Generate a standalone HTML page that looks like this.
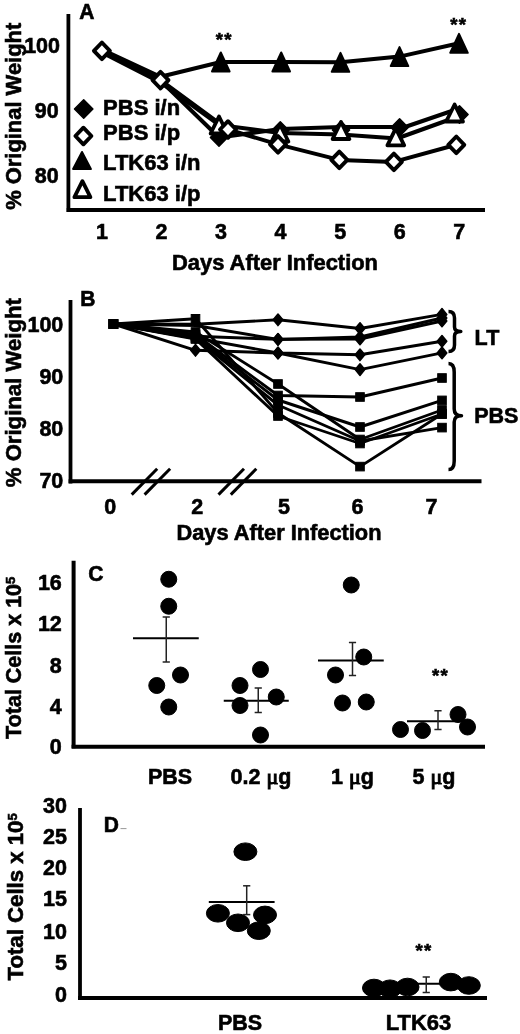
<!DOCTYPE html>
<html><head><meta charset="utf-8"><title>Figure</title>
<style>html,body{margin:0;padding:0;background:#fff;}svg{display:block;}</style>
</head><body>
<svg width="520" height="1034" viewBox="0 0 520 1034" font-family='"Liberation Sans", sans-serif' stroke="#000" fill="#000">
<rect x="0" y="0" width="520" height="1034" fill="#fff" stroke="none"/>
<g stroke-linecap="butt">
<g id="A">
<line x1="68.4" y1="14" x2="68.4" y2="212" stroke-width="3.8"/>
<line x1="66.7" y1="210" x2="485" y2="210" stroke-width="4"/>
<text stroke="#000" stroke-width="0.6" transform="translate(79.3,18.9) scale(1,1.08)" x="0" y="0" font-size="21" text-anchor="start" font-weight="bold">A</text>
<text stroke="#000" stroke-width="0.6" transform="translate(60,52.8) scale(1,1.06)" x="0" y="0" font-size="21.5" text-anchor="end" font-weight="bold">100</text>
<text stroke="#000" stroke-width="0.6" transform="translate(58.6,117.9) scale(1,1.06)" x="0" y="0" font-size="21.5" text-anchor="end" font-weight="bold">90</text>
<text stroke="#000" stroke-width="0.6" transform="translate(58.6,182.9) scale(1,1.06)" x="0" y="0" font-size="21.5" text-anchor="end" font-weight="bold">80</text>
<text stroke="#000" stroke-width="0.6" transform="translate(20.6,116.3) rotate(-90)" x="0" y="0" font-size="21.5" text-anchor="middle" font-weight="bold" textLength="187" lengthAdjust="spacingAndGlyphs" >% Original Weight</text>
<text stroke="#000" stroke-width="0.6" transform="translate(101.9,238.5) scale(1,1.06)" x="0" y="0" font-size="21.5" text-anchor="middle" font-weight="bold">1</text>
<text stroke="#000" stroke-width="0.6" transform="translate(161.45,238.5) scale(1,1.06)" x="0" y="0" font-size="21.5" text-anchor="middle" font-weight="bold">2</text>
<text stroke="#000" stroke-width="0.6" transform="translate(221,238.5) scale(1,1.06)" x="0" y="0" font-size="21.5" text-anchor="middle" font-weight="bold">3</text>
<text stroke="#000" stroke-width="0.6" transform="translate(280.55,238.5) scale(1,1.06)" x="0" y="0" font-size="21.5" text-anchor="middle" font-weight="bold">4</text>
<text stroke="#000" stroke-width="0.6" transform="translate(340.1,238.5) scale(1,1.06)" x="0" y="0" font-size="21.5" text-anchor="middle" font-weight="bold">5</text>
<text stroke="#000" stroke-width="0.6" transform="translate(399.65,238.5) scale(1,1.06)" x="0" y="0" font-size="21.5" text-anchor="middle" font-weight="bold">6</text>
<text stroke="#000" stroke-width="0.6" transform="translate(459.2,238.5) scale(1,1.06)" x="0" y="0" font-size="21.5" text-anchor="middle" font-weight="bold">7</text>
<text stroke="#000" stroke-width="0.6" x="275" y="270" font-size="21.5" font-weight="bold" text-anchor="middle" textLength="206" lengthAdjust="spacingAndGlyphs">Days After Infection</text>
<polyline points="101.9,49.5 160.5,76.8 220.8,62 281.2,62 340.5,62.3 399.5,56.6 459,43.3" fill="none" stroke-width="4" stroke-linejoin="round"/>
<polyline points="101.9,51.5 160.5,80.5 219,137.5 280.3,129 341,127 405,127 459,108.5" fill="none" stroke-width="4" stroke-linejoin="round"/>
<polyline points="101.9,52.5 160.5,82.5 219,125 280,133 341,134.5 397,138.5 459.5,116" fill="none" stroke-width="4" stroke-linejoin="round"/>
<polyline points="101.9,50.8 160.5,80.2 228,129.5 278,144.4 339.3,159.9 393.9,161.9 456.3,144.8" fill="none" stroke-width="4" stroke-linejoin="round"/>
<polygon points="220.8,52.5 229.6,71.5 212,71.5" fill="#000" stroke="#000" stroke-width="2" stroke-linejoin="round"/>
<polygon points="281.2,52.5 290,71.5 272.4,71.5" fill="#000" stroke="#000" stroke-width="2" stroke-linejoin="round"/>
<polygon points="340.5,52.8 349.3,71.8 331.7,71.8" fill="#000" stroke="#000" stroke-width="2" stroke-linejoin="round"/>
<polygon points="399.5,47.1 408.3,66.1 390.7,66.1" fill="#000" stroke="#000" stroke-width="2" stroke-linejoin="round"/>
<polygon points="459,33.8 467.8,52.8 450.2,52.8" fill="#000" stroke="#000" stroke-width="2" stroke-linejoin="round"/>
<polygon points="219,128.7 227.6,137.5 219,146.3 210.4,137.5" fill="#000" stroke="#000" stroke-width="1.5" stroke-linejoin="round"/>
<polygon points="280.3,121.7 288.9,130.5 280.3,139.3 271.7,130.5" fill="#000" stroke="#000" stroke-width="1.5" stroke-linejoin="round"/>
<polygon points="341,121.2 349.6,130 341,138.8 332.4,130" fill="#000" stroke="#000" stroke-width="1.5" stroke-linejoin="round"/>
<polygon points="399.6,118.7 408.2,127.5 399.6,136.3 391,127.5" fill="#000" stroke="#000" stroke-width="1.5" stroke-linejoin="round"/>
<polygon points="459.5,105.7 468.1,114.5 459.5,123.3 450.9,114.5" fill="#000" stroke="#000" stroke-width="1.5" stroke-linejoin="round"/>
<polygon points="219,116.5 227.4,133.5 210.6,133.5" fill="#fff" stroke="#000" stroke-width="3.8" stroke-linejoin="round"/>
<polygon points="280,124.5 288.4,141.5 271.6,141.5" fill="#fff" stroke="#000" stroke-width="3.8" stroke-linejoin="round"/>
<polygon points="341,122 349.4,139 332.6,139" fill="#fff" stroke="#000" stroke-width="3.8" stroke-linejoin="round"/>
<polygon points="395.8,128.3 404.2,145.3 387.4,145.3" fill="#fff" stroke="#000" stroke-width="3.8" stroke-linejoin="round"/>
<polygon points="454.6,104.5 463,121.5 446.2,121.5" fill="#fff" stroke="#000" stroke-width="3.8" stroke-linejoin="round"/>
<polygon points="101.9,42.5 109.9,50.8 101.9,59.1 93.9,50.8" fill="#fff" stroke="#000" stroke-width="3.9" stroke-linejoin="round"/>
<polygon points="160.5,71.9 168.5,80.2 160.5,88.5 152.5,80.2" fill="#fff" stroke="#000" stroke-width="3.9" stroke-linejoin="round"/>
<polygon points="228,121.2 236,129.5 228,137.8 220,129.5" fill="#fff" stroke="#000" stroke-width="3.9" stroke-linejoin="round"/>
<polygon points="278,136.1 286,144.4 278,152.7 270,144.4" fill="#fff" stroke="#000" stroke-width="3.9" stroke-linejoin="round"/>
<polygon points="339.3,151.6 347.3,159.9 339.3,168.2 331.3,159.9" fill="#fff" stroke="#000" stroke-width="3.9" stroke-linejoin="round"/>
<polygon points="393.9,153.6 401.9,161.9 393.9,170.2 385.9,161.9" fill="#fff" stroke="#000" stroke-width="3.9" stroke-linejoin="round"/>
<polygon points="456.3,136.5 464.3,144.8 456.3,153.1 448.3,144.8" fill="#fff" stroke="#000" stroke-width="3.9" stroke-linejoin="round"/>
<text stroke="#000" stroke-width="0.6" x="224.2" y="46.4" font-size="18.5" text-anchor="middle" font-weight="bold" letter-spacing="1.3">**</text>
<text stroke="#000" stroke-width="0.6" x="458.7" y="31.2" font-size="18.5" text-anchor="middle" font-weight="bold" letter-spacing="1.3">**</text>
<polygon points="83.7,99.8 92.9,109 83.7,118.2 74.5,109" fill="#000" stroke="#000" stroke-width="1.5" stroke-linejoin="round"/>
<polygon points="83.4,127.7 91.4,136 83.4,144.3 75.4,136" fill="#fff" stroke="#000" stroke-width="3.9" stroke-linejoin="round"/>
<polygon points="82,152 90.9,169 73.1,169" fill="#000" stroke="#000" stroke-width="2" stroke-linejoin="round"/>
<polygon points="82.4,181.2 90.4,197.2 74.4,197.2" fill="#fff" stroke="#000" stroke-width="3.8" stroke-linejoin="round"/>
<text stroke="#000" stroke-width="0.6" x="103.1" y="115" font-size="22" text-anchor="start" font-weight="bold" >PBS i/n</text>
<text stroke="#000" stroke-width="0.6" x="103.1" y="139.5" font-size="22" text-anchor="start" font-weight="bold" >PBS i/p</text>
<text stroke="#000" stroke-width="0.6" x="103.1" y="169.5" font-size="22" text-anchor="start" font-weight="bold" >LTK63 i/n</text>
<text stroke="#000" stroke-width="0.6" x="103.1" y="201" font-size="22" text-anchor="start" font-weight="bold" >LTK63 i/p</text>
</g>
<g id="B">
<line x1="70.5" y1="300" x2="70.5" y2="483.5" stroke-width="3.8"/>
<line x1="68.6" y1="481.2" x2="481.5" y2="481.2" stroke-width="4"/>
<text stroke="#000" stroke-width="0.6" transform="translate(80.3,306.2) scale(1,1.08)" x="0" y="0" font-size="21" text-anchor="start" font-weight="bold">B</text>
<text stroke="#000" stroke-width="0.6" transform="translate(63.3,331.6) scale(1,1.06)" x="0" y="0" font-size="21.5" text-anchor="end" font-weight="bold">100</text>
<text stroke="#000" stroke-width="0.6" transform="translate(63.3,383.8) scale(1,1.06)" x="0" y="0" font-size="21.5" text-anchor="end" font-weight="bold">90</text>
<text stroke="#000" stroke-width="0.6" transform="translate(63.3,435.8) scale(1,1.06)" x="0" y="0" font-size="21.5" text-anchor="end" font-weight="bold">80</text>
<text stroke="#000" stroke-width="0.6" transform="translate(63.3,487.8) scale(1,1.06)" x="0" y="0" font-size="21.5" text-anchor="end" font-weight="bold">70</text>
<text stroke="#000" stroke-width="0.6" transform="translate(20.8,392.7) rotate(-90)" x="0" y="0" font-size="21.5" text-anchor="middle" font-weight="bold" textLength="189" lengthAdjust="spacingAndGlyphs" >% Original Weight</text>
<text stroke="#000" stroke-width="0.6" transform="translate(110.3,514) scale(1,1.06)" x="0" y="0" font-size="21.5" text-anchor="middle" font-weight="bold">0</text>
<text stroke="#000" stroke-width="0.6" transform="translate(197.1,514) scale(1,1.06)" x="0" y="0" font-size="21.5" text-anchor="middle" font-weight="bold">2</text>
<text stroke="#000" stroke-width="0.6" transform="translate(284,514) scale(1,1.06)" x="0" y="0" font-size="21.5" text-anchor="middle" font-weight="bold">5</text>
<text stroke="#000" stroke-width="0.6" transform="translate(357.5,514) scale(1,1.06)" x="0" y="0" font-size="21.5" text-anchor="middle" font-weight="bold">6</text>
<text stroke="#000" stroke-width="0.6" transform="translate(431.5,514) scale(1,1.06)" x="0" y="0" font-size="21.5" text-anchor="middle" font-weight="bold">7</text>
<text stroke="#000" stroke-width="0.6" x="279" y="540.3" font-size="21.5" font-weight="bold" text-anchor="middle" textLength="205" lengthAdjust="spacingAndGlyphs">Days After Infection</text>
<line x1="131.7" y1="494.6" x2="157.2" y2="468.8" stroke-width="3"/>
<line x1="144.6" y1="494.6" x2="170.1" y2="468.8" stroke-width="3"/>
<line x1="218.5" y1="494.6" x2="244" y2="468.8" stroke-width="3"/>
<line x1="230.8" y1="494.6" x2="256.3" y2="468.8" stroke-width="3"/>
<polyline points="113.4,324 195.5,324.3 278,319.8 360,328.5 442,314.4" fill="none" stroke-width="2.9" stroke-linejoin="round"/>
<polyline points="113.4,324 195.5,325.5 278,339.5 360,337 442,318" fill="none" stroke-width="2.9" stroke-linejoin="round"/>
<polyline points="113.4,324 195.5,336.3 278,339.3 360,339 442,321" fill="none" stroke-width="2.9" stroke-linejoin="round"/>
<polyline points="113.4,324 195.5,338 278,353 360,354.8 442,341.3" fill="none" stroke-width="2.9" stroke-linejoin="round"/>
<polyline points="113.4,324 195.5,350.3 278,353 360,369.6 442,352.9" fill="none" stroke-width="2.9" stroke-linejoin="round"/>
<polyline points="113.4,324 195.5,318.8 278,413 360,466.6 442,414" fill="none" stroke-width="2.9" stroke-linejoin="round"/>
<polyline points="113.4,324 195.5,332 278,384 360,439.5 442,410" fill="none" stroke-width="2.9" stroke-linejoin="round"/>
<polyline points="113.4,324 195.5,334.5 278,395.5 360,397 442,378" fill="none" stroke-width="2.9" stroke-linejoin="round"/>
<polyline points="113.4,324 195.5,336.5 278,400 360,427 442,400.4" fill="none" stroke-width="2.9" stroke-linejoin="round"/>
<polyline points="113.4,324 195.5,338.2 278,405 360,441 442,427.6" fill="none" stroke-width="2.9" stroke-linejoin="round"/>
<polyline points="113.4,324 195.5,339 278,416 360,443.5 442,414" fill="none" stroke-width="2.9" stroke-linejoin="round"/>
<polygon points="278,314 282.8,319.8 278,325.6 273.2,319.8" fill="#000" stroke="#000" stroke-width="1.5" stroke-linejoin="round"/>
<polygon points="360,322.7 364.8,328.5 360,334.3 355.2,328.5" fill="#000" stroke="#000" stroke-width="1.5" stroke-linejoin="round"/>
<polygon points="442,308.6 446.8,314.4 442,320.2 437.2,314.4" fill="#000" stroke="#000" stroke-width="1.5" stroke-linejoin="round"/>
<polygon points="278,333.7 282.8,339.5 278,345.3 273.2,339.5" fill="#000" stroke="#000" stroke-width="1.5" stroke-linejoin="round"/>
<polygon points="360,331.2 364.8,337 360,342.8 355.2,337" fill="#000" stroke="#000" stroke-width="1.5" stroke-linejoin="round"/>
<polygon points="442,312.2 446.8,318 442,323.8 437.2,318" fill="#000" stroke="#000" stroke-width="1.5" stroke-linejoin="round"/>
<polygon points="195.5,330.5 200.3,336.3 195.5,342.1 190.7,336.3" fill="#000" stroke="#000" stroke-width="1.5" stroke-linejoin="round"/>
<polygon points="278,333.5 282.8,339.3 278,345.1 273.2,339.3" fill="#000" stroke="#000" stroke-width="1.5" stroke-linejoin="round"/>
<polygon points="360,333.2 364.8,339 360,344.8 355.2,339" fill="#000" stroke="#000" stroke-width="1.5" stroke-linejoin="round"/>
<polygon points="442,315.2 446.8,321 442,326.8 437.2,321" fill="#000" stroke="#000" stroke-width="1.5" stroke-linejoin="round"/>
<polygon points="195.5,332.2 200.3,338 195.5,343.8 190.7,338" fill="#000" stroke="#000" stroke-width="1.5" stroke-linejoin="round"/>
<polygon points="278,347.2 282.8,353 278,358.8 273.2,353" fill="#000" stroke="#000" stroke-width="1.5" stroke-linejoin="round"/>
<polygon points="360,349 364.8,354.8 360,360.6 355.2,354.8" fill="#000" stroke="#000" stroke-width="1.5" stroke-linejoin="round"/>
<polygon points="442,335.5 446.8,341.3 442,347.1 437.2,341.3" fill="#000" stroke="#000" stroke-width="1.5" stroke-linejoin="round"/>
<polygon points="195.5,344.5 200.3,350.3 195.5,356.1 190.7,350.3" fill="#000" stroke="#000" stroke-width="1.5" stroke-linejoin="round"/>
<polygon points="278,347.2 282.8,353 278,358.8 273.2,353" fill="#000" stroke="#000" stroke-width="1.5" stroke-linejoin="round"/>
<polygon points="360,363.8 364.8,369.6 360,375.4 355.2,369.6" fill="#000" stroke="#000" stroke-width="1.5" stroke-linejoin="round"/>
<polygon points="442,347.1 446.8,352.9 442,358.7 437.2,352.9" fill="#000" stroke="#000" stroke-width="1.5" stroke-linejoin="round"/>
<rect x="109.1" y="319.7" width="8.6" height="8.6" fill="#000"/>
<rect x="191.2" y="314.5" width="8.6" height="8.6" fill="#000"/>
<rect x="273.7" y="408.7" width="8.6" height="8.6" fill="#000"/>
<rect x="355.7" y="462.3" width="8.6" height="8.6" fill="#000"/>
<rect x="437.7" y="409.7" width="8.6" height="8.6" fill="#000"/>
<rect x="109.1" y="319.7" width="8.6" height="8.6" fill="#000"/>
<rect x="191.2" y="327.7" width="8.6" height="8.6" fill="#000"/>
<rect x="273.7" y="379.7" width="8.6" height="8.6" fill="#000"/>
<rect x="355.7" y="435.2" width="8.6" height="8.6" fill="#000"/>
<rect x="437.7" y="405.7" width="8.6" height="8.6" fill="#000"/>
<rect x="109.1" y="319.7" width="8.6" height="8.6" fill="#000"/>
<rect x="191.2" y="330.2" width="8.6" height="8.6" fill="#000"/>
<rect x="273.7" y="391.2" width="8.6" height="8.6" fill="#000"/>
<rect x="355.7" y="392.7" width="8.6" height="8.6" fill="#000"/>
<rect x="437.7" y="373.7" width="8.6" height="8.6" fill="#000"/>
<rect x="109.1" y="319.7" width="8.6" height="8.6" fill="#000"/>
<rect x="191.2" y="332.2" width="8.6" height="8.6" fill="#000"/>
<rect x="273.7" y="395.7" width="8.6" height="8.6" fill="#000"/>
<rect x="355.7" y="422.7" width="8.6" height="8.6" fill="#000"/>
<rect x="437.7" y="396.1" width="8.6" height="8.6" fill="#000"/>
<rect x="109.1" y="319.7" width="8.6" height="8.6" fill="#000"/>
<rect x="191.2" y="333.9" width="8.6" height="8.6" fill="#000"/>
<rect x="273.7" y="400.7" width="8.6" height="8.6" fill="#000"/>
<rect x="355.7" y="436.7" width="8.6" height="8.6" fill="#000"/>
<rect x="437.7" y="423.3" width="8.6" height="8.6" fill="#000"/>
<rect x="109.1" y="319.7" width="8.6" height="8.6" fill="#000"/>
<rect x="191.2" y="334.7" width="8.6" height="8.6" fill="#000"/>
<rect x="273.7" y="411.7" width="8.6" height="8.6" fill="#000"/>
<rect x="355.7" y="439.2" width="8.6" height="8.6" fill="#000"/>
<rect x="437.7" y="409.7" width="8.6" height="8.6" fill="#000"/>
<path d="M448.5,311.5 Q454.5,311.5 454.5,318 L454.5,327 Q454.5,331.5 460.8,331.5 Q454.5,331.5 454.5,336 L454.5,345 Q454.5,351.5 448.5,351.5" fill="none" stroke-width="3.5" stroke-linejoin="round"/>
<path d="M448.5,363.5 Q454.2,363.5 454.2,372 L454.2,409 Q454.2,415.8 461.5,415.8 Q454.2,415.8 454.2,422 L454.2,461 Q454.2,469.6 448.5,469.6" fill="none" stroke-width="3.5" stroke-linejoin="round"/>
<text stroke="#000" stroke-width="0.6" x="474.6" y="345.2" font-size="21.5" text-anchor="start" font-weight="bold" >LT</text>
<text stroke="#000" stroke-width="0.6" x="474.2" y="422.6" font-size="21.5" text-anchor="start" font-weight="bold" >PBS</text>
</g>
<g id="C">
<line x1="73.6" y1="560.8" x2="73.6" y2="748.3" stroke-width="4"/>
<line x1="71.6" y1="746.7" x2="485" y2="746.7" stroke-width="3.9"/>
<text stroke="#000" stroke-width="0.6" transform="translate(88.3,580.7) scale(1,1.08)" x="0" y="0" font-size="21" text-anchor="start" font-weight="bold">C</text>
<text stroke="#000" stroke-width="0.6" transform="translate(61.8,590) scale(1,1.06)" x="0" y="0" font-size="21.5" text-anchor="end" font-weight="bold">16</text>
<text stroke="#000" stroke-width="0.6" transform="translate(61.8,631.3) scale(1,1.06)" x="0" y="0" font-size="21.5" text-anchor="end" font-weight="bold">12</text>
<text stroke="#000" stroke-width="0.6" transform="translate(61.8,672.6) scale(1,1.06)" x="0" y="0" font-size="21.5" text-anchor="end" font-weight="bold">8</text>
<text stroke="#000" stroke-width="0.6" transform="translate(61.8,714) scale(1,1.06)" x="0" y="0" font-size="21.5" text-anchor="end" font-weight="bold">4</text>
<text stroke="#000" stroke-width="0.6" transform="translate(61.8,753.8) scale(1,1.06)" x="0" y="0" font-size="21.5" text-anchor="end" font-weight="bold">0</text>
<text stroke="#000" stroke-width="0.6" transform="translate(21.3,738.9) rotate(-90)" font-size="21.5" font-weight="bold">Total Cells x 10<tspan font-size="13" dy="-6.5">5</tspan></text>
<ellipse cx="168.75" cy="579.25" rx="8" ry="8" fill="#000"/>
<ellipse cx="168.75" cy="606.25" rx="8" ry="8" fill="#000"/>
<ellipse cx="180.5" cy="675" rx="8" ry="8" fill="#000"/>
<ellipse cx="156.75" cy="685.5" rx="8" ry="8" fill="#000"/>
<ellipse cx="168.75" cy="707" rx="8" ry="8" fill="#000"/>
<line x1="133" y1="638.25" x2="198.75" y2="638.25" stroke-width="2"/>
<g stroke="#222">
<line x1="166.25" y1="617" x2="166.25" y2="662" stroke-width="1.5"/>
<line x1="162.65" y1="617" x2="169.85" y2="617" stroke-width="1.5"/>
<line x1="162.65" y1="662" x2="169.85" y2="662" stroke-width="1.5"/>
</g>
<ellipse cx="260.5" cy="669.5" rx="8" ry="8" fill="#000"/>
<ellipse cx="240" cy="685.5" rx="8" ry="8" fill="#000"/>
<ellipse cx="276.25" cy="697" rx="8" ry="8" fill="#000"/>
<ellipse cx="240" cy="705.5" rx="8" ry="8" fill="#000"/>
<ellipse cx="260.5" cy="735" rx="8" ry="8" fill="#000"/>
<line x1="223.75" y1="700.75" x2="288.75" y2="700.75" stroke-width="2"/>
<g stroke="#222">
<line x1="258.25" y1="688" x2="258.25" y2="712.5" stroke-width="1.5"/>
<line x1="254.65" y1="688" x2="261.85" y2="688" stroke-width="1.5"/>
<line x1="254.65" y1="712.5" x2="261.85" y2="712.5" stroke-width="1.5"/>
</g>
<ellipse cx="351.25" cy="585" rx="8" ry="8" fill="#000"/>
<ellipse cx="363.75" cy="657" rx="8" ry="8" fill="#000"/>
<ellipse cx="335.5" cy="675" rx="8" ry="8" fill="#000"/>
<ellipse cx="342.5" cy="703" rx="8" ry="8" fill="#000"/>
<ellipse cx="366.25" cy="702" rx="8" ry="8" fill="#000"/>
<line x1="318" y1="660.5" x2="383.75" y2="660.5" stroke-width="2"/>
<g stroke="#222">
<line x1="352.5" y1="642.5" x2="352.5" y2="675.5" stroke-width="1.5"/>
<line x1="348.9" y1="642.5" x2="356.1" y2="642.5" stroke-width="1.5"/>
<line x1="348.9" y1="675.5" x2="356.1" y2="675.5" stroke-width="1.5"/>
</g>
<line x1="407" y1="721.25" x2="466" y2="721.25" stroke-width="2"/>
<g stroke="#222">
<line x1="438" y1="710.75" x2="438" y2="729.5" stroke-width="1.5"/>
<line x1="434.4" y1="710.75" x2="441.6" y2="710.75" stroke-width="1.5"/>
<line x1="434.4" y1="729.5" x2="441.6" y2="729.5" stroke-width="1.5"/>
</g>
<ellipse cx="400.5" cy="729.5" rx="8" ry="8" fill="#000"/>
<ellipse cx="422.5" cy="730.5" rx="8" ry="8" fill="#000"/>
<ellipse cx="458" cy="714.5" rx="8" ry="8" fill="#000"/>
<ellipse cx="467.5" cy="727" rx="8" ry="8" fill="#000"/>
<text stroke="#000" stroke-width="0.6" x="440.5" y="682" font-size="18.5" text-anchor="middle" font-weight="bold" letter-spacing="1.3">**</text>
<text stroke="#000" stroke-width="0.6" x="170" y="784.3" font-size="21.5" text-anchor="middle" font-weight="bold" >PBS</text>
<text stroke="#000" stroke-width="0.6" x="230.5" y="784" font-size="21.5" font-weight="bold">0.2 <tspan font-weight="normal" font-family="&quot;Liberation Serif&quot;, serif" font-size="22" stroke-width="1.1">&#956;</tspan>g</text>
<text stroke="#000" stroke-width="0.6" x="331" y="784" font-size="21.5" font-weight="bold">1 <tspan font-weight="normal" font-family="&quot;Liberation Serif&quot;, serif" font-size="22" stroke-width="1.1">&#956;</tspan>g</text>
<text stroke="#000" stroke-width="0.6" x="412.5" y="784" font-size="21.5" font-weight="bold">5 <tspan font-weight="normal" font-family="&quot;Liberation Serif&quot;, serif" font-size="22" stroke-width="1.1">&#956;</tspan>g</text>
</g>
<g id="D">
<line x1="80" y1="808" x2="80" y2="1000" stroke-width="3.8"/>
<line x1="78" y1="998" x2="487" y2="998" stroke-width="3.8"/>
<text stroke="#000" stroke-width="0.6" transform="translate(103.8,831.5) scale(1,1.08)" x="0" y="0" font-size="21" text-anchor="start" font-weight="bold">D</text>
<line x1="120.5" y1="828.6" x2="126.5" y2="828.6" stroke="#999" stroke-width="1"/>
<text stroke="#000" stroke-width="0.6" transform="translate(67,812.6) scale(1,1.06)" x="0" y="0" font-size="21.5" text-anchor="end" font-weight="bold">30</text>
<text stroke="#000" stroke-width="0.6" transform="translate(67,843.6) scale(1,1.06)" x="0" y="0" font-size="21.5" text-anchor="end" font-weight="bold">25</text>
<text stroke="#000" stroke-width="0.6" transform="translate(67,874.9) scale(1,1.06)" x="0" y="0" font-size="21.5" text-anchor="end" font-weight="bold">20</text>
<text stroke="#000" stroke-width="0.6" transform="translate(67,906.1) scale(1,1.06)" x="0" y="0" font-size="21.5" text-anchor="end" font-weight="bold">15</text>
<text stroke="#000" stroke-width="0.6" transform="translate(67,938.9) scale(1,1.06)" x="0" y="0" font-size="21.5" text-anchor="end" font-weight="bold">10</text>
<text stroke="#000" stroke-width="0.6" transform="translate(67,970.1) scale(1,1.06)" x="0" y="0" font-size="21.5" text-anchor="end" font-weight="bold">5</text>
<text stroke="#000" stroke-width="0.6" transform="translate(67,1002.2) scale(1,1.06)" x="0" y="0" font-size="21.5" text-anchor="end" font-weight="bold">0</text>
<text stroke="#000" stroke-width="0.6" transform="translate(23.3,980.5) rotate(-90)" font-size="22.2" font-weight="bold">Total Cells x 10<tspan font-size="13" dy="-6.5">5</tspan></text>
<line x1="208.8" y1="902" x2="274.6" y2="902" stroke-width="2"/>
<g stroke="#222">
<line x1="246.7" y1="885.8" x2="246.7" y2="914.6" stroke-width="1.5"/>
<line x1="243.1" y1="885.8" x2="250.3" y2="885.8" stroke-width="1.5"/>
<line x1="243.1" y1="914.6" x2="250.3" y2="914.6" stroke-width="1.5"/>
</g>
<ellipse cx="245.4" cy="851.7" rx="11.5" ry="8.8" fill="#000"/>
<ellipse cx="217.9" cy="913.3" rx="11.5" ry="8.8" fill="#000"/>
<ellipse cx="265" cy="914.9" rx="11.5" ry="8.8" fill="#000"/>
<ellipse cx="238" cy="922.8" rx="11.5" ry="8.8" fill="#000"/>
<ellipse cx="258.8" cy="930.7" rx="11.5" ry="8.8" fill="#000"/>
<line x1="375" y1="983.75" x2="470" y2="983.75" stroke-width="2"/>
<g stroke="#222">
<line x1="426.25" y1="977" x2="426.25" y2="992.5" stroke-width="1.5"/>
<line x1="422.65" y1="977" x2="429.85" y2="977" stroke-width="1.5"/>
<line x1="422.65" y1="992.5" x2="429.85" y2="992.5" stroke-width="1.5"/>
</g>
<ellipse cx="374" cy="988" rx="11.5" ry="8.8" fill="#000"/>
<ellipse cx="390" cy="988.75" rx="11.5" ry="8.8" fill="#000"/>
<ellipse cx="407.5" cy="987" rx="11.5" ry="8.8" fill="#000"/>
<ellipse cx="450.8" cy="982.1" rx="11.5" ry="8.8" fill="#000"/>
<ellipse cx="468.8" cy="985.5" rx="11.5" ry="8.8" fill="#000"/>
<text stroke="#000" stroke-width="0.6" x="423.9" y="957" font-size="18.5" text-anchor="middle" font-weight="bold" letter-spacing="1.3">**</text>
<text stroke="#000" stroke-width="0.6" x="240" y="1029.6" font-size="21.5" text-anchor="middle" font-weight="bold" >PBS</text>
<text stroke="#000" stroke-width="0.6" x="418.5" y="1030" font-size="22" text-anchor="middle" font-weight="bold" >LTK63</text>
</g>
</g>
</svg>
</body></html>
